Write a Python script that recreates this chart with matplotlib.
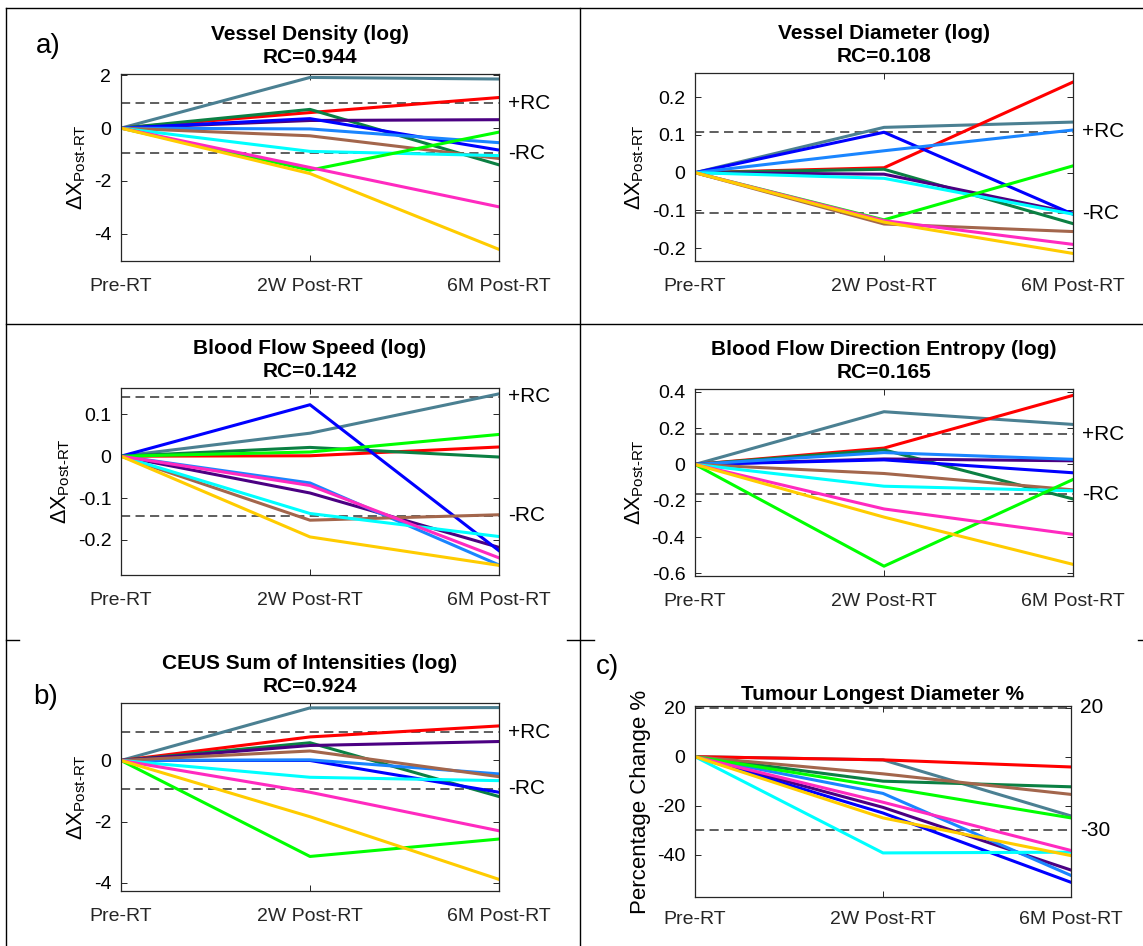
import matplotlib
matplotlib.use("Agg")
import matplotlib.pyplot as plt
from matplotlib.lines import Line2D

plt.rcParams['font.family'] = ['Liberation Sans', 'DejaVu Sans']
plt.rcParams['axes.unicode_minus'] = False
plt.rcParams['mathtext.fontset'] = 'custom'
plt.rcParams['mathtext.rm'] = 'Liberation Sans'
plt.rcParams['mathtext.it'] = 'Liberation Sans'

W, H = 1143, 946

# ---- data ----
timepoints = ['Pre-RT', '2W Post-RT', '6M Post-RT']
colors = ['#4b8092', '#ff0000', '#0b8043', '#4b0082', '#0000ff', '#1a85ff',
          '#a3664c', '#00ffff', '#00ff00', '#ff2ac0', '#ffcc00']

vd_2w = [1.92, 0.59, 0.71, 0.29, 0.36, -0.03, -0.29, -0.88, -1.59, -1.49, -1.72]
vd_6m = [1.86, 1.16, -1.39, 0.32, -0.83, -0.55, -1.15, -1.04, -0.15, -2.98, -4.59]

vdi_2w = [0.12, 0.013, 0.009, -0.004, 0.107, 0.058, -0.136, -0.015, -0.125, -0.127, -0.131]
vdi_6m = [0.134, 0.24, -0.135, -0.107, -0.11, 0.113, -0.156, -0.11, 0.018, -0.19, -0.214]

bfs_2w = [0.055, 0.001, 0.021, -0.088, 0.123, -0.064, -0.153, -0.137, 0.01, -0.07, -0.193]
bfs_6m = [0.149, 0.022, -0.002, -0.218, -0.226, -0.26, -0.14, -0.192, 0.052, -0.243, -0.261]

bfe_2w = [0.29, 0.09, 0.08, 0.03, 0.025, 0.065, -0.05, -0.12, -0.56, -0.245, -0.29]
bfe_6m = [0.22, 0.38, -0.19, 0.02, -0.046, 0.028, -0.14, -0.145, -0.083, -0.385, -0.55]

ceus_2w = [1.72, 0.77, 0.58, 0.49, 0.0, 0.02, 0.31, -0.55, -3.14, -1.04, -1.84]
ceus_6m = [1.73, 1.13, -1.18, 0.62, -1.04, -0.44, -0.53, -0.66, -2.57, -2.3, -3.89]

tld_2w = [-1.3, -1.3, -10, -20.7, -23, -15, -7, -39.3, -12.3, -18.6, -25]
tld_6m = [-24.2, -4.2, -12.3, -46.3, -51.3, -48.5, -15.4, -39, -25, -38.3, -40.4]

rc_vals = [0.944, 0.108, 0.142, 0.165, 0.924]
titles = ['Vessel Density (log)', 'Vessel Diameter (log)', 'Blood Flow Speed (log)',
          'Blood Flow Direction Entropy (log)', 'CEUS Sum of Intensities (log)']


def px_rect(x0, y0, x1, y1):
    return [x0 / W, 1 - y1 / H, (x1 - x0) / W, (y1 - y0) / H]


fig = plt.figure(figsize=(W / 100, H / 100), dpi=100)

panels = [
    (px_rect(121, 74, 499, 261), vd_2w, vd_6m, (-5.03, 2.05), [-4, -2, 0, 2]),
    (px_rect(695, 73, 1073, 261), vdi_2w, vdi_6m, (-0.234, 0.264), [-0.2, -0.1, 0, 0.1, 0.2]),
    (px_rect(121, 388, 499, 575), bfs_2w, bfs_6m, (-0.284, 0.163), [-0.2, -0.1, 0, 0.1]),
    (px_rect(695, 389, 1073, 576), bfe_2w, bfe_6m, (-0.614, 0.415), [-0.6, -0.4, -0.2, 0, 0.2, 0.4]),
    (px_rect(121, 703, 499, 891), ceus_2w, ceus_6m, (-4.27, 1.88), [-4, -2, 0]),
]


def style_axes(ax):
    for s in ax.spines.values():
        s.set_color('#262626')
        s.set_linewidth(0.9)
    ax.tick_params(direction='in', length=4, width=0.7, top=True, right=True,
                   labelsize=14, colors='#262626', pad=7)
    ax.tick_params(axis='x', pad=12)
    ax.set_xlim(0, 2)
    ax.set_xticks([0, 1, 2])
    ax.set_xticklabels(timepoints)
    for lab in ax.get_yticklabels():
        lab.set_color('black')


for i, (rect, v2, v6, ylim, yticks) in enumerate(panels):
    ax = fig.add_axes(rect)
    rc = rc_vals[i]
    ax.axhline(rc, color='#333333', lw=1.1, ls=(0, (6, 3.5)), zorder=1)
    ax.axhline(-rc, color='#333333', lw=1.1, ls=(0, (6, 3.5)), zorder=1)
    for c, a, b in zip(colors, v2, v6):
        ax.plot([0, 1, 2], [0, a, b], color=c, lw=2.2, zorder=2)
    ax.set_ylim(*ylim)
    ax.set_yticks(yticks)
    ax.set_yticklabels([f'{t:g}' for t in yticks])
    style_axes(ax)
    ax.set_title(f'{titles[i]}\nRC={rc:.3f}', fontsize=15, fontweight='bold',
                 pad=8, linespacing=1.25)
    ax.set_ylabel('ΔX$_{\\mathrm{Post‐RT}}$', fontsize=15.5, labelpad=4)
    ax.text(1.025, rc, '+RC', transform=ax.get_yaxis_transform(), fontsize=15,
            va='center', ha='left')
    ax.text(1.025, -rc, '-RC', transform=ax.get_yaxis_transform(), fontsize=15,
            va='center', ha='left')

# tumour diameter panel
ax = fig.add_axes(px_rect(695, 706, 1071, 897))
ax.axhline(20, color='#333333', lw=1.1, ls=(0, (6, 3.5)), zorder=1)
ax.axhline(-30, color='#333333', lw=1.1, ls=(0, (6, 3.5)), zorder=1)
for c, a, b in zip(colors, tld_2w, tld_6m):
    ax.plot([0, 1, 2], [0, a, b], color=c, lw=2.2, zorder=2)
ax.set_ylim(-57.3, 20.7)
ax.set_yticks([-40, -20, 0, 20])
style_axes(ax)
ax.tick_params(axis='x', pad=10)
ax.set_title('Tumour Longest Diameter %', fontsize=15, fontweight='bold', pad=4)
ax.set_ylabel('Percentage Change %', fontsize=16, labelpad=4)
ax.text(1.025, 20, '20', transform=ax.get_yaxis_transform(), fontsize=15,
        va='center', ha='left')
ax.text(1.025, -30, '-30', transform=ax.get_yaxis_transform(), fontsize=15,
        va='center', ha='left')

# panel letters
fig.text(36 / W, 1 - 46 / H, 'a)', fontsize=20, va='center', ha='left')
fig.text(33 / W, 1 - 697 / H, 'b)', fontsize=20, va='center', ha='left')
fig.text(596 / W, 1 - 667 / H, 'c)', fontsize=20, va='center', ha='left')


# frame lines
def hline(y, x0, x1):
    fig.add_artist(Line2D([x0 / W, x1 / W], [1 - y / H, 1 - y / H], color='black', lw=1.0))


def vline(x, y0, y1):
    fig.add_artist(Line2D([x / W, x / W], [1 - y0 / H, 1 - y1 / H], color='black', lw=1.0))


hline(8, 6, W)
vline(6, 8, H)
vline(580, 8, H)
hline(324, 6, W)
hline(640, 6, 19)
hline(640, 567, 594)
hline(640, 1138, W)

fig.savefig('out.png', dpi=100)
